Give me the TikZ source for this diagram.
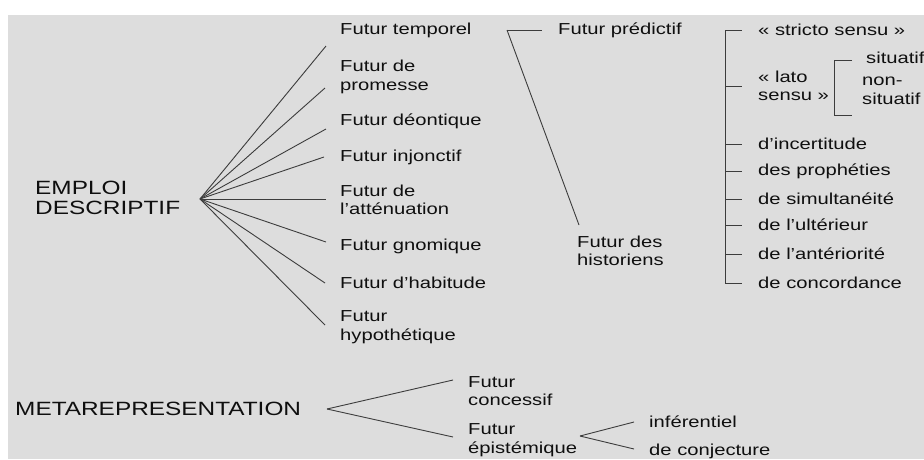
\documentclass[tikz,border=0pt]{standalone}
\usepackage{fontspec}
\setmainfont{Liberation Sans}[FakeStretch=1.27]
\definecolor{bggray}{RGB}{221,221,221}
\definecolor{wiregray}{RGB}{60,60,60}
\definecolor{inkgray}{RGB}{15,15,15}
\begin{document}
\begin{tikzpicture}[x=1pt,y=-1pt,item/.style={anchor=west,inner sep=0pt,align=left,text=inkgray,font=\fontsize{15.9}{18.5}\selectfont},head/.style={item,font=\fontsize{19.2}{20}\selectfont},wire/.style={draw=wiregray,line width=0.9pt}]
\useasboundingbox (0,0) rectangle (924,459);
\fill[bggray] (8,15) rectangle (924,459);

\node[head] (emploi) at (35,198) {EMPLOI\\DESCRIPTIF};
\coordinate (hubE) at (200,199);

\node[item] (t1) at (340,30) {Futur temporel};
\node[item] (t2) at (340,77) {Futur de\\promesse};
\node[item] (t3) at (340,121) {Futur déontique};
\node[item] (t4) at (340,157) {Futur injonctif};
\node[item] (t5) at (340,200) {Futur de\\l'atténuation};
\node[item] (t6) at (340,246) {Futur gnomique};
\node[item] (t7) at (340,283) {Futur d'habitude};
\node[item] (t8) at (340,327) {Futur\\hypothétique};

\draw[wire] (hubE) -- ([shift={(-14,16)}]t1.west);
\draw[wire] (hubE) -- ([shift={(-15,11)}]t2.west);
\draw[wire] (hubE) -- ([shift={(-14,8)}]t3.west);
\draw[wire] (hubE) -- ([shift={(-16,0)}]t4.west);
\draw[wire] (hubE) -- ([shift={(-14,-1)}]t5.west);
\draw[wire] (hubE) -- ([shift={(-14,-4)}]t6.west);
\draw[wire] (hubE) -- ([shift={(-15,0)}]t7.west);
\draw[wire] (hubE) -- ([shift={(-15,-2)}]t8.west);

\coordinate (hubT) at (507,30);
\node[item] (pred) at (558,30) {Futur prédictif};
\node[item] (hist) at (577,251) {Futur des\\historiens};
\draw[wire] (hubT) -- ([xshift=-16pt]pred.west);
\draw[wire] (hubT) -- ([shift={(2,-26)}]hist.west);

\node[item] (s1) at (758,30) {« stricto sensu »};
\node[item] (s2) at (758,86) {« lato\\sensu »};
\node[item] (s3) at (758,144) {d'incertitude};
\node[item] (s4) at (758,171) {des prophéties};
\node[item] (s5) at (758,199) {de simultanéité};
\node[item] (s6) at (758,225) {de l'ultérieur};
\node[item] (s7) at (758,254) {de l'antériorité};
\node[item] (s8) at (758,283) {de concordance};

\coordinate (brTop) at (725,30);
\coordinate (brBot) at (725,283);
\draw[wire,line width=0.8pt] (brTop) -- (brBot);
\draw[wire,line width=0.8pt] (brTop |- s1.west) -- ([xshift=-16pt]s1.west);
\draw[wire,line width=0.8pt] (brTop |- s2.west) -- ([xshift=-16pt]s2.west);
\draw[wire,line width=0.8pt] (brTop |- s3.west) -- ([xshift=-16pt]s3.west);
\draw[wire,line width=0.8pt] (brTop |- s4.west) -- ([xshift=-16pt]s4.west);
\draw[wire,line width=0.8pt] (brTop |- s5.west) -- ([xshift=-16pt]s5.west);
\draw[wire,line width=0.8pt] (brTop |- s6.west) -- ([xshift=-16pt]s6.west);
\draw[wire,line width=0.8pt] (brTop |- s7.west) -- ([xshift=-16pt]s7.west);
\draw[wire,line width=0.8pt] (brBot |- s8.west) -- ([xshift=-16pt]s8.west);

\node[item] (sit) at (866,58) {situatif};
\node[item] (nonsit) at (862,91) {non-\\situatif};
\coordinate (subTop) at (834,60);
\coordinate (subBot) at (834,115);
\draw[wire,line width=0.8pt] ([xshift=-14pt]sit.west |- subTop) -- (subTop) -- (subBot) -- ++(18,0);

\node[head] (meta) at (15,409) {METAREPRESENTATION};
\coordinate (hubM) at (327,409);
\node[item] (conc) at (468,391) {Futur\\concessif};
\node[item] (epi) at (468,440) {Futur\\épistémique};
\draw[wire] (hubM) -- ([shift={(-15,-11)}]conc.west);
\draw[wire] (hubM) -- ([shift={(-15,-3)}]epi.west);

\coordinate (hubP) at (580,436);
\node[item] (inf) at (649,422) {inférentiel};
\node[item] (conj) at (649,451) {de conjecture};
\draw[wire] (hubP) -- ([xshift=-15pt]inf.west);
\draw[wire] (hubP) -- ([shift={(-15,-2)}]conj.west);
\end{tikzpicture}
\end{document}
